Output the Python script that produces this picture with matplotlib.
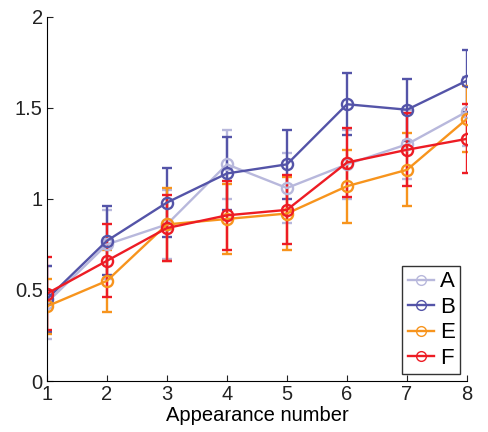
import matplotlib
matplotlib.use("Agg")
import matplotlib.pyplot as plt
from matplotlib.lines import Line2D
import numpy as np

plt.rcParams['font.family'] = ['Liberation Sans', 'DejaVu Sans']

appearance = [1, 2, 3, 4, 5, 6, 7, 8]

a_mean = [0.43, 0.75, 0.86, 1.19, 1.06, 1.19, 1.30, 1.48]
a_err = [0.20, 0.19, 0.19, 0.19, 0.19, 0.19, 0.19, 0.19]
b_mean = [0.45, 0.77, 0.98, 1.14, 1.19, 1.52, 1.49, 1.65]
b_err = [0.18, 0.19, 0.19, 0.20, 0.19, 0.17, 0.17, 0.17]
e_mean = [0.41, 0.55, 0.86, 0.89, 0.92, 1.07, 1.16, 1.44]
e_err = [0.15, 0.17, 0.20, 0.19, 0.20, 0.20, 0.20, 0.18]
f_mean = [0.48, 0.66, 0.84, 0.91, 0.94, 1.20, 1.27, 1.33]
f_err = [0.20, 0.20, 0.18, 0.19, 0.19, 0.19, 0.20, 0.19]

labels = ["A", "B", "E", "F"]
colors = ["#b8b8dc", "#5454a8", "#f7941d", "#ed1c24"]
means = [a_mean, b_mean, e_mean, f_mean]
errs = [a_err, b_err, e_err, f_err]

fig = plt.figure(figsize=(4.88, 4.32), dpi=100)
ax = fig.add_axes([0.096, 0.118, 0.861, 0.843])

handles = []
for lab, col, m, e in zip(labels, colors, means, errs):
    ax.errorbar(appearance, m, yerr=e, color=col, lw=1.7, marker='o',
                ms=8, mfc='none', mec=col, mew=1.7, capsize=3.5,
                capthick=1.7, elinewidth=1.7)
    handles.append(Line2D([], [], color=col, lw=1.7, marker='o', ms=7,
                          mfc='none', mec=col, mew=1.0))

ax.set_xlim(1, 8)
ax.set_ylim(0, 2)
ax.set_xticks(appearance)
ax.set_yticks([0, 0.5, 1, 1.5, 2])
ax.set_yticklabels(["0", "0.5", "1", "1.5", "2"])
ax.tick_params(direction='in', length=4, labelsize=14.5, colors='#222222',
               pad=3)
ax.set_xlabel("Appearance number", fontsize=14.5, labelpad=1)
for s in ['top', 'right']:
    ax.spines[s].set_visible(False)

leg = ax.legend(handles, labels, loc='lower right', fontsize=16,
                frameon=True, fancybox=False, edgecolor='black',
                handlelength=1.2, handletextpad=0.25, borderpad=0.25,
                labelspacing=0.2, borderaxespad=0.3)
leg.get_frame().set_linewidth(1.0)

fig.savefig("out.png", dpi=100)
